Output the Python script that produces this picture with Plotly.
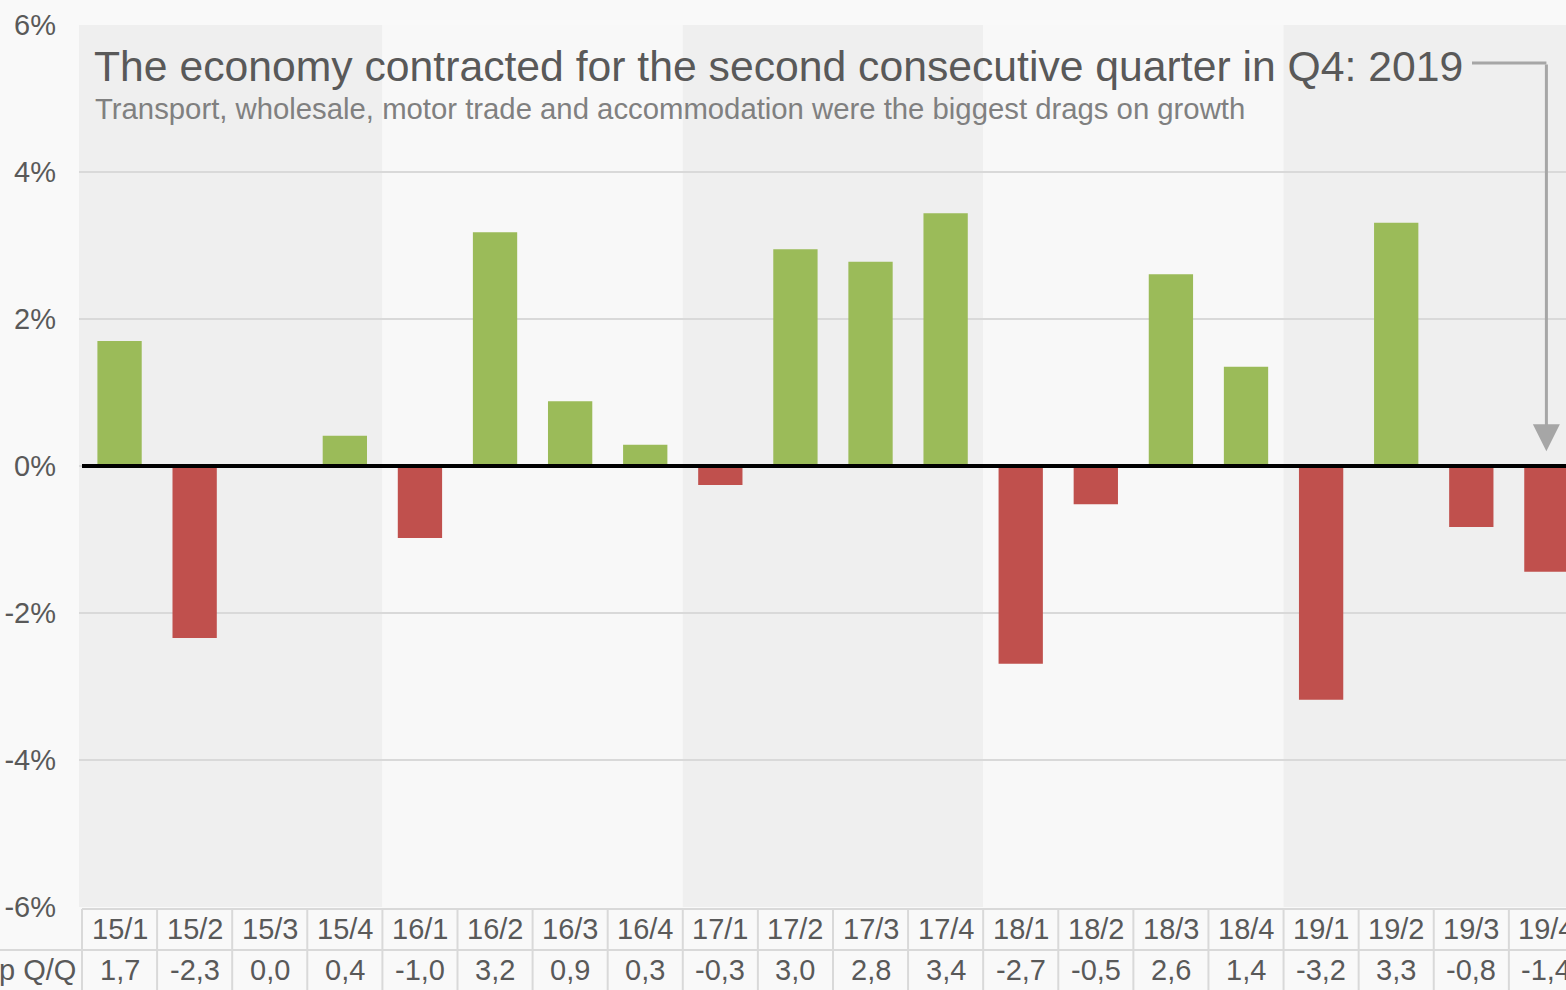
import plotly.graph_objects as go

quarters = ["15/1", "15/2", "15/3", "15/4", "16/1", "16/2", "16/3", "16/4",
            "17/1", "17/2", "17/3", "17/4", "18/1", "18/2", "18/3", "18/4",
            "19/1", "19/2", "19/3", "19/4"]
growth = [1.70, -2.34, 0.0, 0.41, -0.98, 3.18, 0.88, 0.29,
          -0.26, 2.95, 2.78, 3.44, -2.69, -0.52, 2.61, 1.35,
          -3.18, 3.31, -0.83, -1.44]
growth_labels = ["1,7", "-2,3", "0,0", "0,4", "-1,0", "3,2", "0,9", "0,3",
                 "-0,3", "3,0", "2,8", "3,4", "-2,7", "-0,5", "2,6", "1,4",
                 "-3,2", "3,3", "-0,8", "-1,4"]
row_label = "p Q/Q"
title = "The economy contracted for the second consecutive quarter in Q4: 2019"
subtitle = "Transport, wholesale, motor trade and accommodation were the biggest drags on growth"
years = [(0, 3), (4, 7), (8, 11), (12, 15), (16, 19)]
y_ticks = [-6, -4, -2, 0, 2, 4, 6]
y_ticktext = ["-6%", "-4%", "-2%", "0%", "2%", "4%", "6%"]

W, H = 1566, 990
ML, MR, MT, MB = 79, 0, 25, 83
PW, PH = W - ML - MR, H - MT - MB
FONT = "Liberation Sans, Arial, sans-serif"
GREEN, RED = "#9bbb59", "#c0504d"
TXT = "#595959"

def py(px):  # pixel y -> paper y
    return (H - MB - px) / PH

def pxx(px):  # pixel x -> paper x
    return (px - ML) / PW

x_idx = list(range(len(quarters)))
colors = [GREEN if v >= 0 else RED for v in growth]

fig = go.Figure()
fig.add_trace(go.Bar(x=x_idx, y=growth, marker=dict(color=colors, line=dict(width=0)),
                     width=0.59, hoverinfo="skip"))

shapes = []
for k, (a, b) in enumerate(years):
    shapes.append(dict(type="rect", xref="x", yref="paper", x0=a - 0.5 if k else -0.6, x1=b + 0.5,
                       y0=0, y1=1, fillcolor="#efefef" if k % 2 == 0 else "#f8f8f8",
                       line=dict(width=0), layer="below"))
shapes.append(dict(type="line", xref="x", yref="y", x0=-0.5, x1=20, y0=0, y1=0,
                   line=dict(color="black", width=4), layer="above"))
grid_c = "#d9d9d9"
shapes.append(dict(type="line", xref="x", yref="paper", x0=-0.5, x1=20, y0=py(909), y1=py(909),
                   line=dict(color=grid_c, width=2)))
shapes.append(dict(type="line", xref="paper", yref="paper", x0=pxx(0), x1=1.0, y0=py(950), y1=py(950),
                   line=dict(color=grid_c, width=2)))
for i in range(len(quarters) + 1):
    shapes.append(dict(type="line", xref="x", yref="paper", x0=i - 0.5, x1=i - 0.5,
                       y0=py(909), y1=py(992), line=dict(color=grid_c, width=2)))
yarrow = (466 - 63) / 73.5
shapes.append(dict(type="line", xref="x", yref="y", x0=(1472 - 119.5) / 75.1, x1=19, y0=yarrow, y1=yarrow,
                   line=dict(color="#a6a6a6", width=3)))

annotations = []
for i, (q, lab) in enumerate(zip(quarters, growth_labels)):
    annotations.append(dict(x=i, y=py(929), xref="x", yref="paper", text=q, showarrow=False,
                            font=dict(family=FONT, size=29, color=TXT), xanchor="center", yanchor="middle"))
    annotations.append(dict(x=i, y=py(970), xref="x", yref="paper", text=lab,
                            showarrow=False, font=dict(family=FONT, size=29, color=TXT),
                            xanchor="center", yanchor="middle"))
annotations.append(dict(x=pxx(-3), y=py(970), xref="paper", yref="paper", text=row_label, showarrow=False,
                        font=dict(family=FONT, size=29, color=TXT), xanchor="left", yanchor="middle"))
annotations.append(dict(x=pxx(92), y=py(66), xref="paper", yref="paper", text=title, showarrow=False,
                        font=dict(family=FONT, size=42.7, color=TXT), xanchor="left", yanchor="middle"))
annotations.append(dict(x=pxx(93), y=py(108), xref="paper", yref="paper", text=subtitle, showarrow=False,
                        font=dict(family=FONT, size=29.3, color="#808080"), xanchor="left", yanchor="middle"))
annotations.append(dict(x=19, y=0.2, xref="x", yref="y", ax=19, ay=yarrow, axref="x", ayref="y",
                        showarrow=True, arrowhead=2, arrowsize=1.8, arrowwidth=3, arrowcolor="#a6a6a6",
                        text=""))

fig.update_layout(
    width=W, height=H,
    margin=dict(l=ML, r=MR, t=MT, b=MB),
    paper_bgcolor="#f9f9f9", plot_bgcolor="#f9f9f9",
    showlegend=False, bargap=0.4,
    shapes=shapes, annotations=annotations,
    xaxis=dict(range=[-0.54, (W - 119.5) / 75.1], showticklabels=False, showgrid=False,
               zeroline=False, showline=False, ticks=""),
    yaxis=dict(range=[-6, 6], tickvals=y_ticks, ticktext=y_ticktext, showgrid=True, gridcolor="#d9d9d9",
               gridwidth=2, zeroline=False, showline=False, ticks="", ticklabelstandoff=22,
               tickfont=dict(family=FONT, size=29, color=TXT)),
)

fig.write_html("out.html", config={"displayModeBar": False},
               post_script="document.body.style.margin='0';document.body.style.overflow='hidden';")
